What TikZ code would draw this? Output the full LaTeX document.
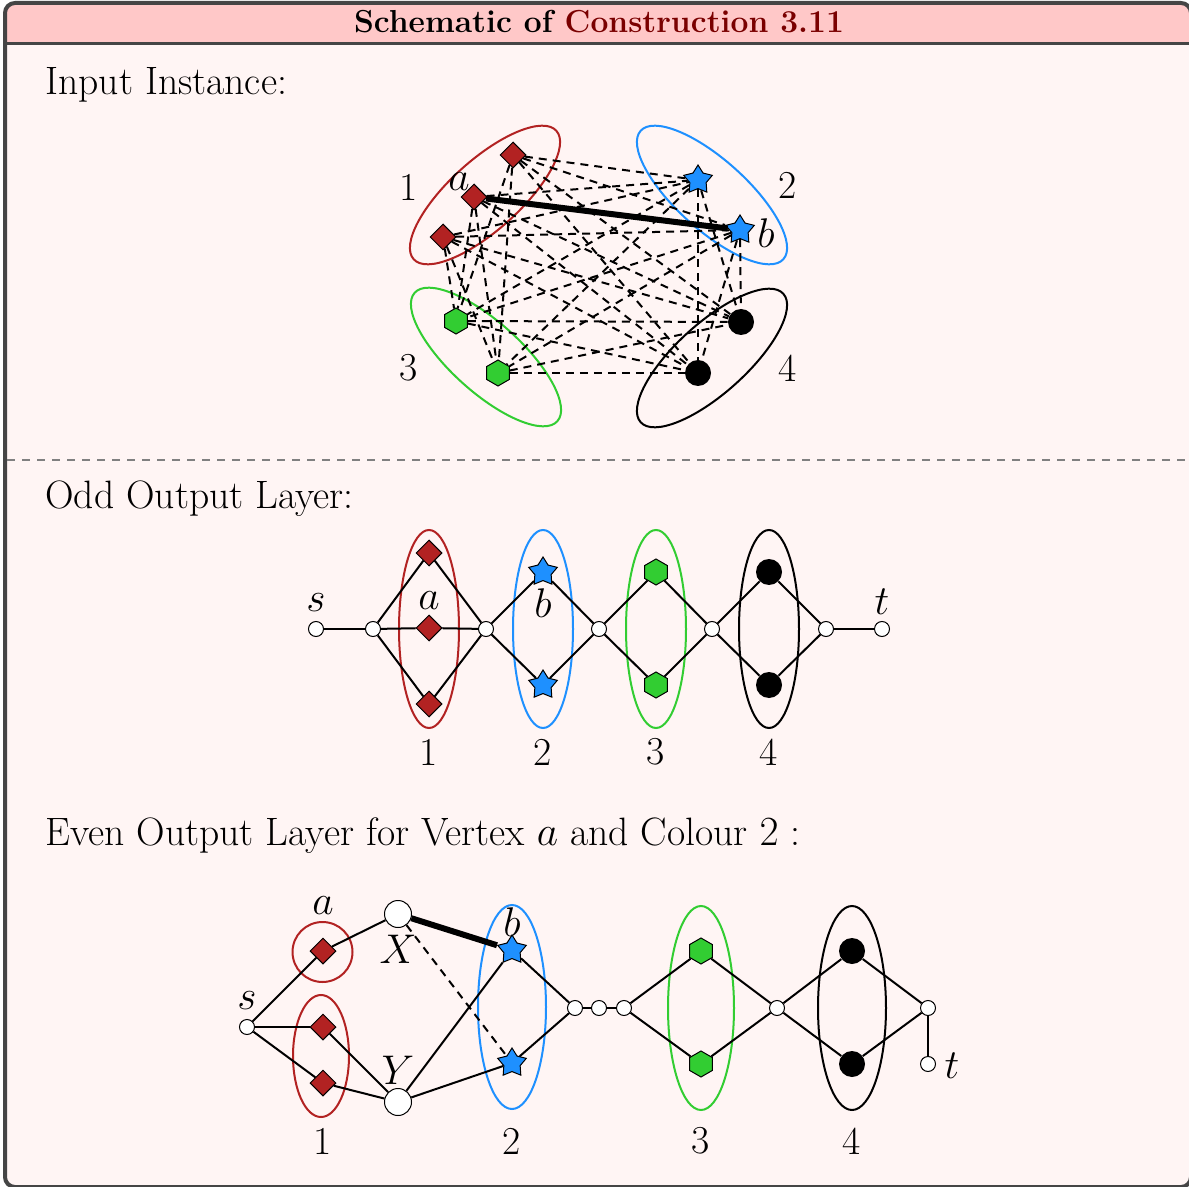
\documentclass[tikz,border=0pt]{standalone}
\usetikzlibrary{shapes.geometric}
\definecolor{framegray}{HTML}{454545}
\definecolor{titlebg}{HTML}{FFC8C8}
\definecolor{bodybg}{HTML}{FFF5F4}
\definecolor{cred}{HTML}{B22222}
\definecolor{cblue}{HTML}{1E90FF}
\definecolor{cgreen}{HTML}{32CD32}
\definecolor{titlered}{HTML}{7A0000}
\begin{document}
\begin{tikzpicture}[x=0.5pt,y=-0.5pt,
 every node/.style={font=\fontsize{19.8}{24}\selectfont},
 dia/.style={diamond, draw=black, fill=cred, inner sep=0pt, minimum size=13pt, line width=0.5pt},
 st/.style={star, star points=5, star point ratio=1.75, draw=black, fill=cblue, inner sep=0pt, minimum size=15pt, line width=0.5pt},
 hexa/.style={regular polygon, regular polygon sides=6, shape border rotate=30, draw=black, fill=cgreen, inner sep=0pt, minimum size=13pt, line width=0.5pt},
 blk/.style={circle, fill=black, inner sep=0pt, minimum size=13pt},
 wv/.style={circle, draw=black, fill=white, inner sep=0pt, minimum size=7.5pt, line width=0.5pt},
 bigv/.style={circle, draw=black, fill=white, inner sep=0pt, minimum size=13.5pt, line width=0.5pt},
 ln/.style={line width=1pt},
 dln/.style={line width=1pt, dash pattern=on 4pt off 3pt},
 thk/.style={line width=3pt},
 lab/.style={inner sep=0pt},
 ell/.style={line width=1pt},
]
\useasboundingbox (0,0) rectangle (1189,1187);
\fill[white] (0,0) rectangle (1189,1187);
% frame
\fill[bodybg, rounded corners=5pt] (5,3) rectangle (1191,1187);
\begin{scope}
\clip (0,0) rectangle (1189,43.5);
\fill[titlebg, rounded corners=5pt] (5,3) rectangle (1191,1187);
\end{scope}
\draw[framegray, line width=1.5pt] (5,43.5) -- (1191,43.5);
\draw[framegray, line width=2pt, rounded corners=5pt] (5,3) rectangle (1191,1187);
\node[anchor=base, inner sep=0pt, font=\fontsize{15.9}{19}\selectfont\bfseries] (title) at (599,33) {Schematic of \textcolor{titlered}{Construction 3.11}};
\draw[gray, line width=0.8pt, dash pattern=on 4pt off 3.5pt] (7,460) -- (1187,460);

% section headings
\node[anchor=base west, inner sep=0pt] (h1) at (45,95) {Input Instance:};
\node[anchor=base west, inner sep=0pt] (h2) at (45,509) {Odd Output Layer:};
\node[anchor=base west, inner sep=0pt] (h3) at (45,845) {Even Output Layer for Vertex $a$ and Colour $2$ :};

% ===== Input instance =====
\draw[ell, cred, rotate around={42:(485,195)}] (485,195) ellipse [x radius=96, y radius=35];
\draw[ell, cblue, rotate around={-42:(712,195)}] (712,195) ellipse [x radius=96, y radius=35];
\draw[ell, cgreen, rotate around={-42:(486,357)}] (486,357) ellipse [x radius=96, y radius=35];
\draw[ell, black, rotate around={42:(712,358)}] (712,358) ellipse [x radius=96, y radius=35];

\node[dia] (r1) at (513,155) {};
\node[dia] (ra) at (474,197) {};
\node[dia] (r3) at (443,237) {};
\node[st] (b1) at (698,180) {};
\node[st] (bb) at (740,230) {};
\node[hexa] (g1) at (456,321) {};
\node[hexa] (g2) at (498,373) {};
\node[blk] (k1) at (741,322) {};
\node[blk] (k2) at (698,373) {};

\foreach \u in {r1,ra,r3} \foreach \v in {b1,bb,g1,g2,k1,k2} \draw[dln] (\u) -- (\v);
\foreach \u in {b1,bb} \foreach \v in {g1,g2,k1,k2} \draw[dln] (\u) -- (\v);
\foreach \u in {g1,g2} \foreach \v in {k1,k2} \draw[dln] (\u) -- (\v);
\draw[thk] (ra) -- (bb);

\node[lab] (l1) at (409,187) {1};
\node[lab] (l2) at (788,185) {2};
\node[lab] (l3) at (409,368) {3};
\node[lab] (l4) at (788,368) {4};
\node[lab] (la) at (459,182) {$a$};
\node[lab] (lb) at (766,233) {$b$};

% ===== Odd output layer =====
\draw[ell, cred] (429,629) ellipse [x radius=30, y radius=99];
\draw[ell, cblue] (543,629) ellipse [x radius=30, y radius=99];
\draw[ell, cgreen] (656,629) ellipse [x radius=30, y radius=99];
\draw[ell, black] (769,629) ellipse [x radius=30, y radius=99];

\node[wv] (os) at (316,629) {};
\node[wv] (o1) at (373,629) {};
\node[dia] (od1) at (429,553) {};
\node[dia] (od2) at (429,628) {};
\node[dia] (od3) at (429,704) {};
\node[wv] (o2) at (486,629) {};
\node[st] (os1) at (543,572) {};
\node[st] (os2) at (543,685) {};
\node[wv] (o3) at (599,629) {};
\node[hexa] (oh1) at (656,572) {};
\node[hexa] (oh2) at (656,685) {};
\node[wv] (o4) at (712,629) {};
\node[blk] (ok1) at (769,572) {};
\node[blk] (ok2) at (769,685) {};
\node[wv] (o5) at (826,629) {};
\node[wv] (ot) at (882,629) {};

\draw[ln] (os) -- (o1);
\foreach \v in {od1,od2,od3} {\draw[ln] (o1) -- (\v); \draw[ln] (\v) -- (o2);}
\foreach \v in {os1,os2} {\draw[ln] (o2) -- (\v); \draw[ln] (\v) -- (o3);}
\foreach \v in {oh1,oh2} {\draw[ln] (o3) -- (\v); \draw[ln] (\v) -- (o4);}
\foreach \v in {ok1,ok2} {\draw[ln] (o4) -- (\v); \draw[ln] (\v) -- (o5);}
\draw[ln] (o5) -- (ot);

\node[lab] (los) at (316,603) {$s$};
\node[lab] (lot) at (882,602) {$t$};
\node[lab] (loa) at (429,601) {$a$};
\node[lab] (lob) at (543,603) {$b$};
\node[lab] (lo1) at (429,752) {1};
\node[lab] (lo2) at (543,752) {2};
\node[lab] (lo3) at (656,752) {3};
\node[lab] (lo4) at (769,752) {4};

% ===== Even output layer =====
\draw[ell, cred] (322.5,952) circle [radius=30];
\draw[ell, cred] (321,1056) ellipse [x radius=28, y radius=61];
\draw[ell, cblue] (512,1007) ellipse [x radius=34, y radius=102];
\draw[ell, cgreen] (701,1008) ellipse [x radius=33, y radius=102];
\draw[ell, black] (852,1008) ellipse [x radius=34, y radius=102];

\node[wv] (es) at (247,1027) {};
\node[dia] (ea) at (323,951) {};
\node[dia] (ed2) at (323,1027) {};
\node[dia] (ed3) at (323,1083) {};
\node[bigv] (X) at (398,914) {};
\node[bigv] (Y) at (398,1102) {};
\node[st] (eb) at (512,950) {};
\node[st] (es2) at (512,1063) {};
\node[wv] (e1) at (575,1008) {};
\node[wv] (e2) at (599,1008) {};
\node[wv] (e3) at (624,1008) {};
\node[hexa] (eh1) at (701,951) {};
\node[hexa] (eh2) at (701,1064) {};
\node[wv] (e4) at (777,1008) {};
\node[blk] (ek1) at (852,951) {};
\node[blk] (ek2) at (852,1064) {};
\node[wv] (e5) at (928,1008) {};
\node[wv] (et) at (928,1064) {};

\draw[ln] (es) -- (ea);
\draw[ln] (ea) -- (X);
\draw[ln] (es) -- (ed2);
\draw[ln] (es) -- (ed3);
\draw[ln] (ed2) -- (Y);
\draw[ln] (ed3) -- (Y);
\draw[thk] (X) -- (eb);
\draw[dln] (X) -- (es2);
\draw[ln] (Y) -- (eb);
\draw[ln] (Y) -- (es2);
\draw[ln] (eb) -- (e1);
\draw[ln] (es2) -- (e1);
\draw[ln] (e1) -- (e2);
\draw[ln] (e2) -- (e3);
\foreach \v in {eh1,eh2} {\draw[ln] (e3) -- (\v); \draw[ln] (\v) -- (e4);}
\foreach \v in {ek1,ek2} {\draw[ln] (e4) -- (\v); \draw[ln] (\v) -- (e5);}
\draw[ln] (e5) -- (et);

\node[lab] (lea) at (323,906) {$a$};
\node[lab] (les) at (247,1001) {$s$};
\node[lab] (leX) at (398,949) {$X$};
\node[lab] (leY) at (398,1070) {$Y$};
\node[lab] (leb) at (512,922) {$b$};
\node[lab] (let) at (952,1066) {$t$};
\node[lab] (le1) at (323,1141) {1};
\node[lab] (le2) at (512,1141) {2};
\node[lab] (le3) at (701,1141) {3};
\node[lab] (le4) at (852,1141) {4};
\end{tikzpicture}
\end{document}
